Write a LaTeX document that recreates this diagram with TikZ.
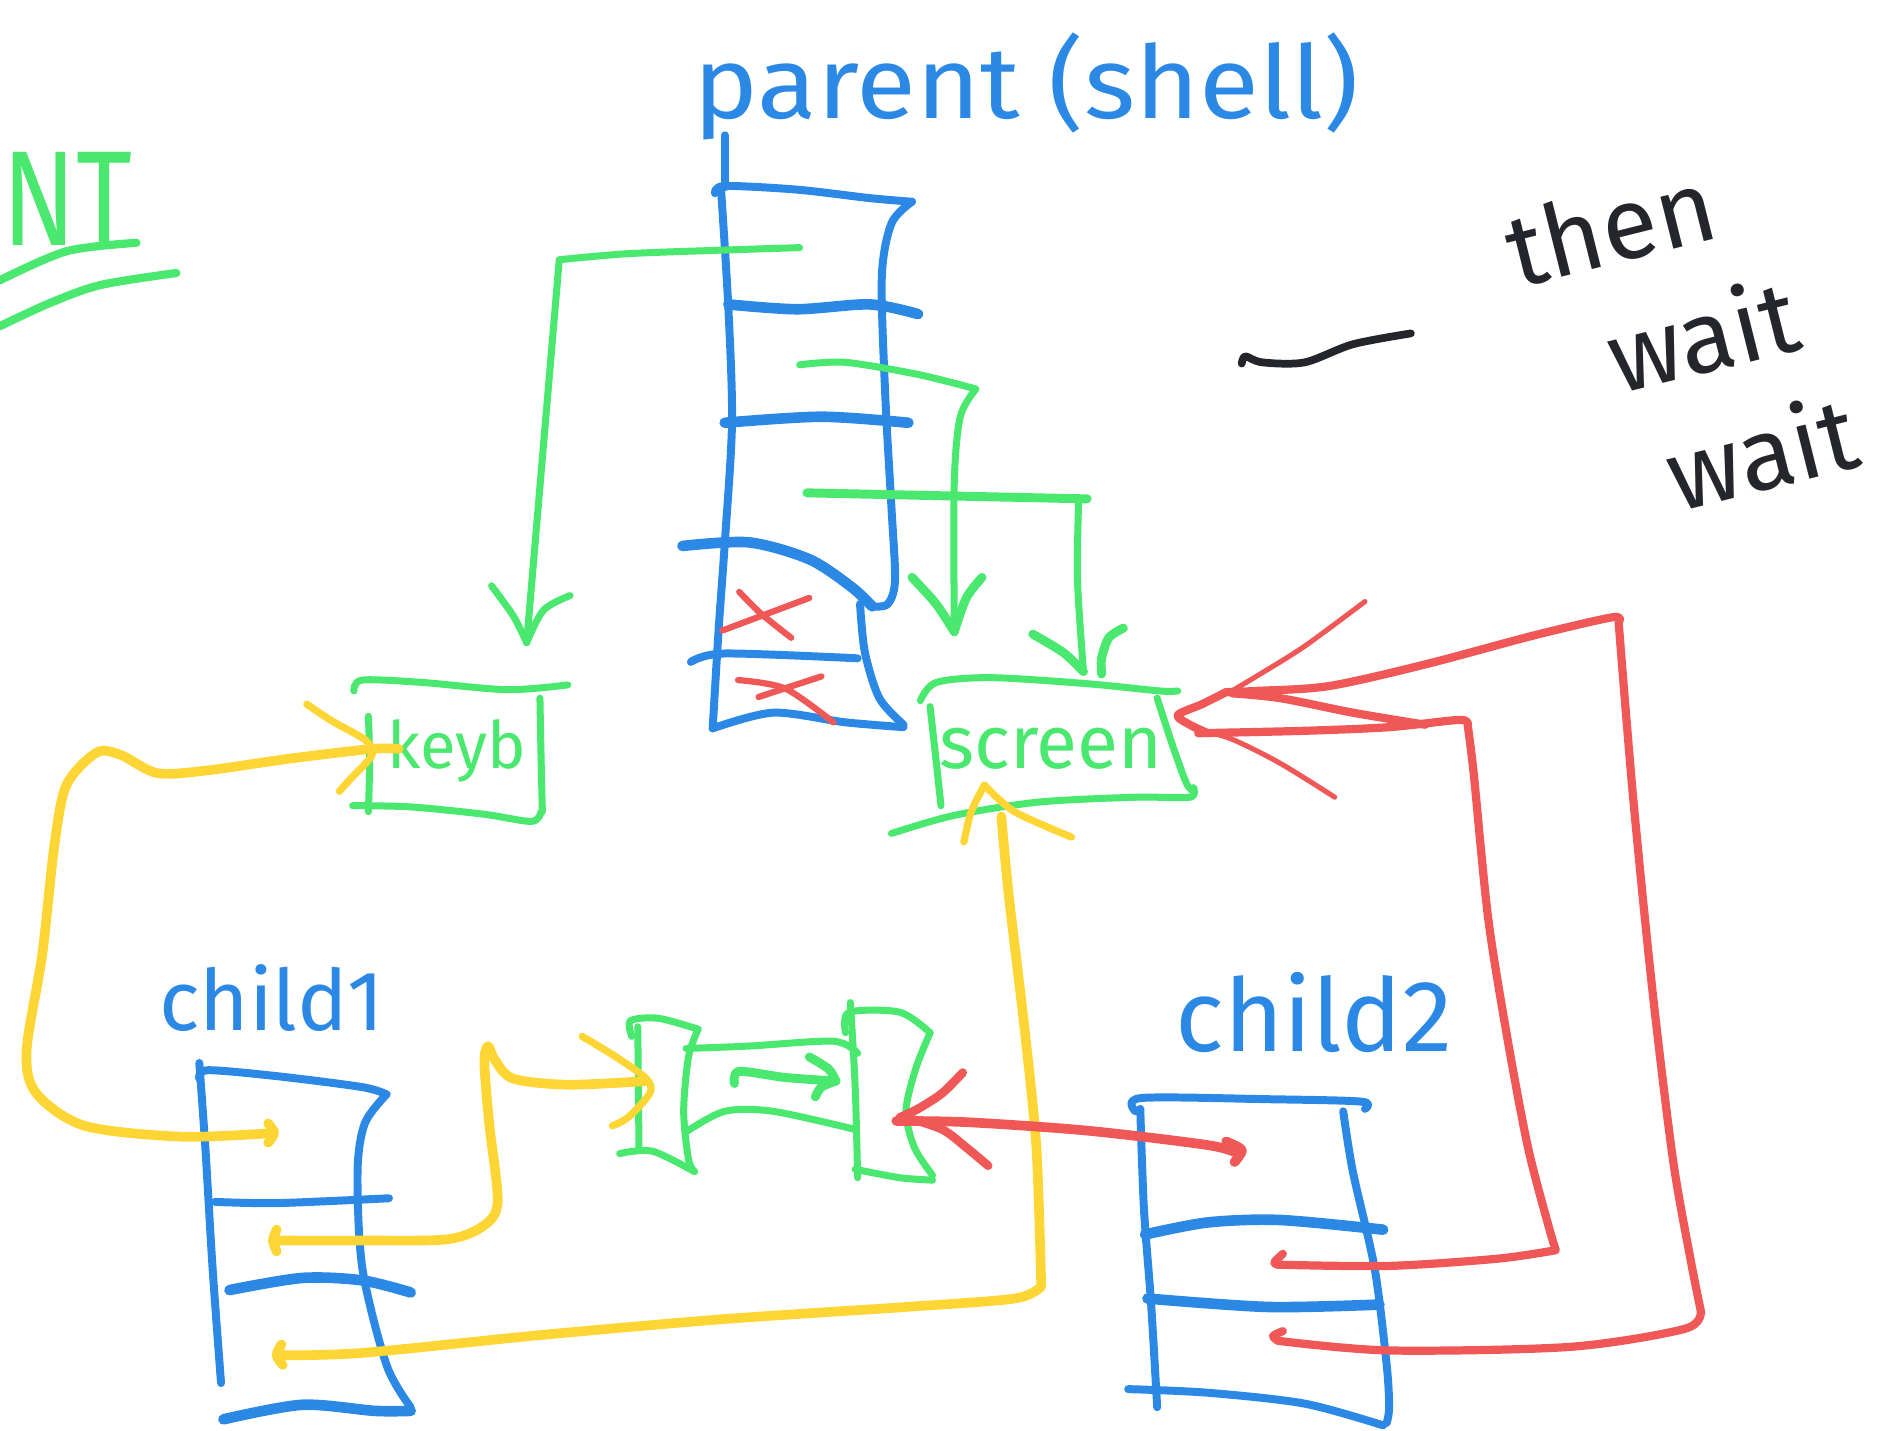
\documentclass[tikz,border=0pt]{standalone}
\usepackage{fontspec}
\setmainfont{Fira Sans}
\definecolor{pblue}{HTML}{2B89E5}
\definecolor{pgreen}{HTML}{4AE86E}
\definecolor{pyellow}{HTML}{FDD635}
\definecolor{pred}{HTML}{F05858}
\definecolor{pink}{HTML}{25262B}
\begin{document}
\begin{tikzpicture}[x=0.5pt,y=-0.5pt,line cap=round,line join=round,
  bl/.style={draw=pblue,line width=3.3pt},
  blthick/.style={draw=pblue,line width=4.4pt},
  gr/.style={draw=pgreen,line width=2.9pt},
  grthick/.style={draw=pgreen,line width=3.7pt},
  yl/.style={draw=pyellow,line width=4pt},
  yltip/.style={draw=pyellow,line width=3pt},
  rd/.style={draw=pred,line width=3.4pt},
  rdthin/.style={draw=pred,line width=2.1pt},
  ink/.style={draw=pink,line width=3.2pt},
  label/.style={inner sep=0pt}]
\useasboundingbox (0,0) rectangle (1568,1184);
\clip (0,0) rectangle (1568,1184);

% ---------- headings and notes ----------
\node[label,text=pgreen,anchor=base west,font=\fontsize{56}{60}\selectfont] (nt) at (2,203) {\scalebox{0.8}[1]{NT}};
\draw[gr,line width=3.4pt] plot[smooth] coordinates {(0,232) (55,208) (113,201)};
\draw[gr,line width=3.4pt] plot[smooth] coordinates {(0,270) (41,251) (83,236) (146,226)};

\node[label,text=pblue,anchor=base west,font=\fontsize{42}{44}\selectfont] (parent) at (574,98) {\scalebox{1.08}[1]{parent (shell)}};

\node[label,text=pink,rotate=14,align=left,font=\fontsize{42}{44}\selectfont] (note) at (1392,282)
  {then\\[9pt]\hspace{30pt}wait\\[9pt]\hspace{42pt}wait};
\draw[ink] plot[smooth] coordinates {(1028,301) (1031,295) (1045,300) (1080,300) (1120,285) (1168,276)};

% ---------- parent stack ----------
\coordinate (ptop) at (600,155);
\draw[bl] (600,112) -- (ptop);
\draw[bl] plot[smooth] coordinates {(592,160) (600,154) (660,157) (720,164) (755,167)};
\draw[bl] plot[smooth] coordinates {(755,167) (738,185) (730,230) (733,330) (738,420) (741,480) (735,500) (722,502)};
\draw[blthick] plot[smooth] coordinates {(565,452) (620,449) (670,463) (705,486) (722,502)};
\draw[bl] plot[smooth] coordinates {(597,158) (603,255) (606,350) (600,450) (595,520) (590,603)};
\draw[blthick] plot[smooth] coordinates {(603,252) (660,256) (720,252) (760,260)};
\draw[blthick] plot[smooth] coordinates {(600,350) (680,345) (752,350)};
\draw[bl] plot[smooth] coordinates {(712,500) (716,540) (728,578) (748,600)};
\draw[bl] plot[smooth] coordinates {(590,603) (640,590) (700,598) (748,602)};
\draw[bl] plot[smooth] coordinates {(572,548) (600,541) (710,545)};
\draw[rdthin,line width=2.6pt] (598,522) -- (670,495);
\draw[rdthin,line width=2.6pt] plot[smooth] coordinates {(612,490) (630,508) (655,528)};
\draw[rdthin,line width=2.6pt] plot[smooth] coordinates {(611,563) (650,570) (690,598)};
\draw[rdthin,line width=2.6pt] (628,577) -- (680,560);

% ---------- keyboard and screen ----------
\node[label,text=pgreen,font=\fontsize{27}{28}\selectfont] (keyb) at (378,622) {keyb};
\draw[gr] plot[smooth] coordinates {(293,572) (300,563) (350,565) (420,571) (470,567)};
\draw[gr] plot[smooth] coordinates {(305,593) (306,630) (305,672)};
\draw[gr] plot[smooth] coordinates {(292,667) (340,668) (400,674) (440,680) (448,672)};
\draw[gr] plot[smooth] coordinates {(447,578) (448,630) (449,672)};

\node[label,text=pgreen,font=\fontsize{31}{32}\selectfont] (screen) at (870,620) {screen};
\draw[gr] plot[smooth] coordinates {(762,580) (775,565) (820,561) (900,566) (960,572) (975,572)};
\draw[gr] plot[smooth] coordinates {(770,585) (775,630) (779,667)};
\draw[gr] plot[smooth] coordinates {(958,578) (970,615) (982,648) (988,655)};
\draw[gr] plot[smooth] coordinates {(738,690) (790,675) (860,664) (940,660) (985,660) (988,652)};

% ---------- parent -> devices (green) ----------
\coordinate (g1s) at (662,205);
\coordinate (g1t) at (436,532);
\draw[gr] plot[smooth] coordinates {(g1s) (600,207) (520,210) (463,215)} -- (g1t);
\draw[gr] plot[smooth] coordinates {(407,485) (425,510) (g1t)};
\draw[gr] plot[smooth] coordinates {(g1t) (450,505) (472,493)};

\coordinate (g2s) at (662,302);
\coordinate (g2t) at (790,523);
\draw[gr] plot[smooth] coordinates {(g2s) (700,300) (760,310) (808,322)} -- plot[smooth] coordinates {(808,322) (795,345) (790,400) (g2t)};
\draw[grthick] plot[smooth] coordinates {(755,478) (775,500) (g2t)};
\draw[grthick] plot[smooth] coordinates {(g2t) (800,495) (813,478)};

\coordinate (g3s) at (668,408);
\coordinate (g3t) at (897,556);
\draw[grthick] plot[smooth] coordinates {(g3s) (760,410) (900,413)};
\draw[gr] plot[smooth] coordinates {(893,414) (892,480) (g3t)};
\draw[grthick] plot[smooth] coordinates {(855,525) (880,540) (g3t)};
\draw[grthick] plot[smooth] coordinates {(930,520) (918,528) (912,545) (912,558)};

% ---------- child1 ----------
\node[label,text=pblue,font=\fontsize{35}{36}\selectfont] (child1) at (225,826) {child1};
\draw[bl] plot[smooth] coordinates {(165,893) (172,886) (230,891) (300,900) (320,906)};
\draw[bl] plot[smooth] coordinates {(165,880) (170,950) (176,1050) (183,1145)};
\draw[bl] plot[smooth] coordinates {(320,906) (302,930) (296,970) (300,1050) (320,1130) (340,1165)};
\draw[bl] plot[smooth] coordinates {(178,995) (230,996) (322,992)};
\draw[blthick] plot[smooth] coordinates {(190,1068) (250,1058) (300,1060) (340,1070)};
\draw[blthick] plot[smooth] coordinates {(185,1175) (250,1163) (310,1168) (340,1168)};

% ---------- pipe ----------
\draw[gr] plot[smooth] coordinates {(523,858) (522,845) (545,843) (578,852)};
\draw[gr] (528,850) -- (529,950);
\draw[gr] plot[smooth] coordinates {(513,955) (540,953) (575,970)};
\draw[gr] plot[smooth] coordinates {(578,852) (570,875) (566,920) (570,960) (575,970)};
\draw[gr] plot[smooth] coordinates {(568,868) (620,866) (690,862) (710,872)};
\draw[gr] plot[smooth] coordinates {(568,937) (600,920) (640,920) (708,935)};
\draw[grthick] plot[smooth] coordinates {(608,897) (612,887) (650,892) (692,895)};
\draw[grthick] plot[smooth] coordinates {(670,875) (686,885) (692,895)};
\draw[grthick] plot[smooth] coordinates {(692,895) (680,900) (675,908)};
\draw[gr] plot[smooth] coordinates {(704,830) (708,900) (710,975)};
\draw[gr] plot[smooth] coordinates {(700,855) (703,838) (745,838) (770,855)};
\draw[gr] plot[smooth] coordinates {(770,855) (758,885) (750,920) (757,950) (772,973)};
\draw[gr] plot[smooth] coordinates {(708,968) (745,975) (772,977)};

% ---------- child2 ----------
\node[label,text=pblue,font=\fontsize{42}{44}\selectfont] (child2) at (1088,838) {child2};
\draw[bl] plot[smooth] coordinates {(940,920) (945,909) (1050,910) (1127,912) (1130,918)};
\draw[bl] plot[smooth] coordinates {(944,918) (947,1000) (953,1080) (958,1165)};
\draw[bl] plot[smooth] coordinates {(1112,920) (1120,970) (1138,1050) (1148,1130) (1150,1165) (1148,1178)};
\draw[blthick] plot[smooth] coordinates {(948,1022) (1000,1012) (1060,1010) (1145,1018)};
\draw[blthick] plot[smooth] coordinates {(950,1075) (1050,1082) (1142,1080)};
\draw[bl] plot[smooth] coordinates {(934,1150) (1000,1153) (1080,1162) (1145,1180)};

% ---------- child1 -> keyb, pipe, screen (yellow) ----------
\coordinate (y1s) at (226,938);
\coordinate (y1t) at (308,620);
\draw[yl] plot[smooth] coordinates {(y1s) (150,941) (70,932) (30,905) (22,870) (35,790) (45,700) (55,650) (80,623) (100,625) (130,640) (170,638) (240,628) (y1t) (330,620)};
\draw[yltip] plot[smooth] coordinates {(254,583) (275,597) (303,613) (308,625) (290,645) (281,655)};
\draw[yl] plot[smooth] coordinates {(222,930) (227,938) (222,946)};

\coordinate (y2s) at (230,1027);
\coordinate (y2t) at (535,895);
\draw[yl] plot[smooth] coordinates {(y2s) (300,1027) (370,1026) (400,1015) (412,995) (405,930) (401,880) (404,866) (410,878) (425,893) (470,898) (y2t)};
\draw[yltip] plot[smooth] coordinates {(482,858) (510,875) (535,893) (538,905) (520,925) (507,932)};
\draw[yl] plot[smooth] coordinates {(229,1018) (226,1027) (229,1036)};

\coordinate (y3s) at (230,1122);
\coordinate (y3t) at (815,650);
\draw[yl] plot[smooth] coordinates {(y3s) (300,1120) (450,1105) (600,1092) (750,1082) (840,1075) (862,1065)} -- plot[smooth] coordinates {(862,1065) (858,950) (848,850) (835,740) (829,676)};
\draw[yltip] plot[smooth] coordinates {(798,697) (804,672) (y3t)};
\draw[yltip] plot[smooth] coordinates {(y3t) (840,672) (887,693)};
\draw[yl] plot[smooth] coordinates {(233,1113) (229,1122) (234,1130)};

% ---------- child2 -> pipe, screen (red) ----------
\coordinate (r1s) at (1025,955);
\coordinate (r1t) at (742,928);
\draw[rd,line width=4pt] plot[smooth] coordinates {(r1s) (1000,948) (900,936) (800,929) (r1t)};
\draw[rd,line width=4pt] plot[smooth] coordinates {(1015,945) (1028,952) (1022,962)};
\draw[rd,line width=3.6pt] plot[smooth] coordinates {(797,888) (780,905) (760,918) (745,925)};
\draw[rd,line width=3.6pt] plot[smooth] coordinates {(750,925) (780,935) (800,950) (818,965)};

\coordinate (r2s) at (1058,1047);
\coordinate (r2t) at (992,607);
\draw[rd] plot[smooth] coordinates {(1062,1038) (1055,1045) (r2s)};
\draw[rd] plot[smooth] coordinates {(r2s) (1150,1048) (1240,1042) (1288,1035)}
  -- plot[smooth] coordinates {(1288,1035) (1282,1015) (1265,950) (1248,860) (1232,760) (1220,640) (1215,600)}
  -- plot[smooth] coordinates {(1215,600) (1208,596) (1150,602) (1080,605) (r2t)};

\coordinate (r3s) at (1058,1110);
\coordinate (r3t) at (1015,573);
\draw[rd] plot[smooth] coordinates {(1062,1102) (1054,1106) (r3s)};
\draw[rd] plot[smooth] coordinates {(r3s) (1150,1118) (1300,1115) (1395,1100) (1408,1085)}
  -- plot[smooth] coordinates {(1408,1085) (1400,1045) (1385,960) (1368,820) (1352,660) (1340,515)}
  -- plot[smooth] coordinates {(1340,515) (1335,511) (1270,526) (1180,550) (1100,568) (1040,572) (r3t)};

\draw[rd] plot[smooth] coordinates {(r3t) (995,583) (975,592) (985,600) (1000,607)};
\draw[rdthin] plot[smooth] coordinates {(1130,498) (1080,535) (1040,560) (1018,573)};
\draw[rd] plot[smooth] coordinates {(1180,600) (1120,590) (1060,578) (1020,574)};
\draw[rdthin] plot[smooth] coordinates {(1105,660) (1060,632) (1020,612) (992,604)};
\end{tikzpicture}
\end{document}
